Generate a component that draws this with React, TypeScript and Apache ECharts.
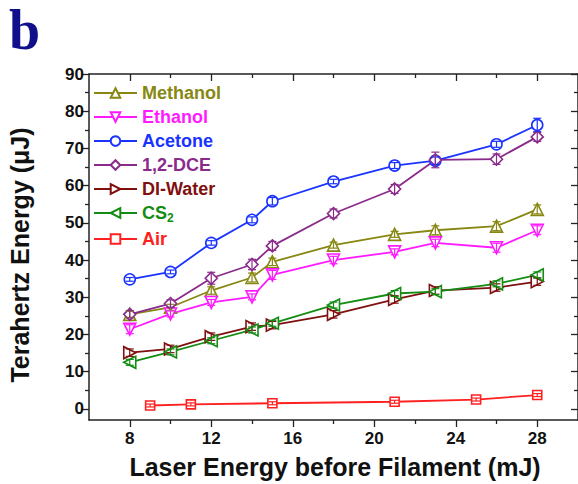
import React, { useEffect, useRef } from "react";
import * as echarts from "echarts";

const xMain = [8, 10, 12, 14, 15, 18, 21, 23, 26, 28];
const methanol = [25.4, 27.3, 31.8, 35.3, 39.5, 44.0, 46.9, 48.0, 49.1, 53.6];
const ethanol = [21.4, 25.5, 28.6, 30.1, 36.0, 40.0, 42.2, 44.6, 43.3, 48.0];
const acetone = [34.8, 36.8, 44.6, 50.8, 55.8, 61.1, 65.4, 66.7, 71.1, 76.3];
const dce = [25.4, 28.3, 35.1, 38.8, 43.8, 52.5, 59.1, 66.9, 67.1, 73.1];
const water = [15.1, 16.1, 19.4, 22.1, 22.5, 25.4, 29.4, 31.8, 32.6, 34.2];
const cs2 = [12.5, 15.3, 18.3, 21.2, 23.0, 27.9, 31.0, 31.5, 33.6, 36.0];
const xAir = [9, 11, 15, 21, 25, 28];
const air = [0.9, 1.2, 1.5, 1.9, 2.5, 3.7];

const errMethanol = [0.8, 0.8, 1.0, 1.2, 1.0, 0.8, 0.8, 1.2, 1.2, 1.2];
const errEthanol = [1.2, 0.8, 0.8, 0.8, 1.2, 1.0, 0.8, 1.0, 1.2, 1.2];
const errAcetone = [0.5, 0.5, 0.6, 0.8, 1.0, 0.6, 0.8, 1.0, 0.8, 1.8];
const errDce = [1.0, 1.0, 1.6, 1.4, 1.2, 1.2, 1.2, 2.1, 1.4, 1.2];
const errWater = [1.0, 1.0, 1.0, 1.0, 1.0, 1.0, 1.0, 1.0, 1.0, 1.0];
const errCs2 = [0.8, 0.8, 0.8, 0.8, 0.8, 0.8, 0.8, 0.8, 0.8, 0.8];
const errAir = [0.4, 0.4, 0.4, 0.4, 0.4, 0.4];

const names = ["Methanol", "Ethanol", "Acetone", "1,2-DCE", "DI-Water", "CS2", "Air"];
const colors = ["#878712", "#ff1aff", "#1a33ff", "#8a2a8a", "#7f1010", "#138c13", "#ff2020"];
const symbols = ["triangle", "triangle", "circle", "diamond", "triangle", "triangle", "rect"];
const rotates = [0, 180, 0, 0, -90, 90, 0];
const sizes = [12, 12, 11, 12, 12, 12, 9];

const xMajor = [8, 12, 16, 20, 24, 28];
const xMinor = [10, 14, 18, 22, 26];
const yMajor = [0, 10, 20, 30, 40, 50, 60, 70, 80, 90];
const yMinor = [5, 15, 25, 35, 45, 55, 65, 75, 85];

export default function App() {
  const ref = useRef<HTMLDivElement>(null);
  useEffect(() => {
    if (!ref.current) return;
    const chart = echarts.init(ref.current, null, { renderer: "svg" });
    const ys = [methanol, ethanol, acetone, dce, water, cs2, air];
    const errs = [errMethanol, errEthanol, errAcetone, errDce, errWater, errCs2, errAir];
    const xs = [xMain, xMain, xMain, xMain, xMain, xMain, xAir];
    const font = "Liberation Sans";
    const axisColor = "#222";

    const lineSeries = names.map((n, i) => ({
      name: n,
      type: "line",
      data: xs[i].map((x, j) => [x, ys[i][j]]),
      symbol: symbols[i],
      symbolSize: sizes[i],
      symbolRotate: rotates[i],
      showAllSymbol: true,
      lineStyle: { color: colors[i], width: 1.8 },
      itemStyle: { color: "#fff", borderColor: colors[i], borderWidth: 1.6 },
      z: 3,
    }));
    const errSeries = names.map((n, i) => ({
      name: n + " err",
      type: "custom",
      data: xs[i].map((x, j) => [x, ys[i][j], errs[i][j]]),
      encode: { x: 0, y: 1 },
      z: 4,
      renderItem: (params: any, api: any) => {
        const x = api.value(0);
        const y = api.value(1);
        const e = api.value(2);
        const hi = api.coord([x, y + e]);
        const lo = api.coord([x, y - e]);
        const st = { stroke: colors[i], lineWidth: 1.2 };
        return {
          type: "group",
          children: [
            { type: "line", shape: { x1: hi[0], y1: hi[1], x2: lo[0], y2: lo[1] }, style: st },
            { type: "line", shape: { x1: hi[0] - 4, y1: hi[1], x2: hi[0] + 4, y2: hi[1] }, style: st },
            { type: "line", shape: { x1: lo[0] - 4, y1: lo[1], x2: lo[0] + 4, y2: lo[1] }, style: st },
          ],
        };
      },
    }));

    const mkX = (pos: string, vals: number[], len: number, inside: boolean, label: boolean, line: boolean) => ({
      type: "value",
      position: pos,
      min: 6,
      max: 30,
      axisLine: { show: line, onZero: false, lineStyle: { color: axisColor, width: 1.5 } },
      axisTick: { show: true, customValues: vals, length: len, inside, lineStyle: { color: axisColor, width: 1.3 } },
      axisLabel: label
        ? { show: true, customValues: vals, color: "#111", fontFamily: font, fontWeight: "bold", fontSize: 17, margin: 10 }
        : { show: false },
      splitLine: { show: false },
    });
    const mkY = (pos: string, vals: number[], len: number, inside: boolean, label: boolean, line: boolean) => ({
      type: "value",
      position: pos,
      min: -3,
      max: 90,
      axisLine: { show: line, onZero: false, lineStyle: { color: axisColor, width: 1.5 } },
      axisTick: { show: true, customValues: vals, length: len, inside, lineStyle: { color: axisColor, width: 1.3 } },
      axisLabel: label
        ? { show: true, customValues: vals, color: "#111", fontFamily: font, fontWeight: "bold", fontSize: 17, margin: 5 }
        : { show: false },
      splitLine: { show: false },
    });

    chart.setOption({
      animation: false,
      backgroundColor: "#fff",
      grid: { left: 89, top: 74, right: -2, bottom: 64, containLabel: false },
      xAxis: [
        mkX("bottom", xMajor, 7, false, true, true),
        mkX("bottom", xMinor, 4, false, false, false),
        mkX("top", xMajor, 7, true, false, true),
        mkX("top", xMinor, 4, true, false, false),
      ],
      yAxis: [
        mkY("left", yMajor, 8, false, true, true),
        mkY("left", yMinor, 4, false, false, false),
        mkY("right", yMajor, 7, true, false, true),
        mkY("right", yMinor, 4, true, false, false),
      ],
      legend: {
        orient: "vertical",
        left: 93,
        top: 84,
        padding: 0,
        itemWidth: 43,
        itemHeight: 12,
        itemGap: 6,
        selectedMode: false,
        formatter: (name: string) => (name === "CS2" ? "{m|CS}{s|2}" : name),
        textStyle: {
          fontFamily: font,
          fontWeight: "bold",
          fontSize: 18,
          rich: {
            m: { fontFamily: font, fontWeight: "bold", fontSize: 18 },
            s: { fontFamily: font, fontWeight: "bold", fontSize: 12, padding: [10, 0, 0, 0] },
          },
        },
        data: names.map((n, i) => ({ name: n, textStyle: { color: colors[i] } })),
      },
      graphic: [
        {
          type: "text",
          x: 9,
          y: 2,
          style: { text: "b", font: 'bold 56px "Liberation Serif"', fill: "#10108a" },
        },
        {
          type: "text",
          x: 335,
          y: 467,
          style: {
            text: "Laser Energy before Filament (mJ)",
            font: 'bold 25px "Liberation Sans"',
            fill: "#111",
            align: "center",
            verticalAlign: "middle",
          },
        },
        {
          type: "text",
          x: 20,
          y: 255,
          rotation: Math.PI / 2,
          style: {
            text: "Terahertz Energy (\u03bcJ)",
            font: 'bold 25px "Liberation Sans"',
            fill: "#111",
            align: "center",
            verticalAlign: "middle",
          },
        },
      ],
      series: [...lineSeries, ...errSeries],
    });
    return () => chart.dispose();
  }, []);
  return <div ref={ref} style={{ width: 578, height: 484, position: "absolute", left: 0, top: 0 }} />;
}
